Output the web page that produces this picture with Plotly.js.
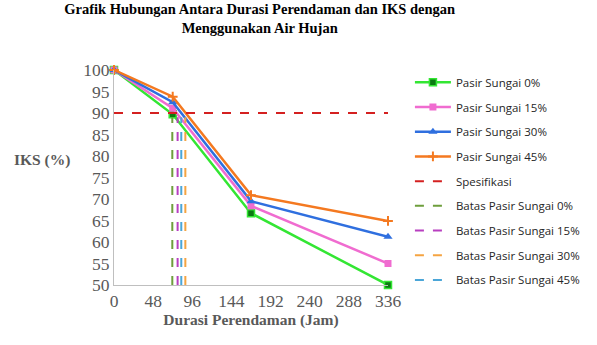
<!DOCTYPE html>
<html>
<head>
<meta charset="utf-8">
<script src="https://cdn.plot.ly/plotly-3.0.1.min.js"></script>
<style>html,body{margin:0;padding:0;background:#fff;}#chart{width:597px;height:345px;}</style>
</head>
<body>
<div id="chart"></div>
<script>
// Data
const durasi = [0, 72, 168, 336];
const pasir0 = [100, 89.7, 66.7, 50];
const pasir15 = [100, 91.1, 68.4, 55];
const pasir30 = [100, 92.5, 69.5, 61.2];
const pasir45 = [100, 93.8, 70.9, 64.9];
const spesifikasiX = [0, 336];
const spesifikasiY = [90, 90];
const batasY = [50, 89];
const batas0X = [71.5, 71.5];
const batas15X = [78, 78];
const batas30X = [87.5, 87.5];
const batas45X = [82.5, 82.5];
const xTicks = [0, 48, 96, 144, 192, 240, 288, 336];
const yTicks = [50, 55, 60, 65, 70, 75, 80, 85, 90, 95, 100];

const names = ['Pasir Sungai 0%', 'Pasir Sungai 15%', 'Pasir Sungai 30%', 'Pasir Sungai 45%',
  'Spesifikasi', 'Batas Pasir Sungai 0%', 'Batas Pasir Sungai 15%', 'Batas Pasir Sungai 30%', 'Batas Pasir Sungai 45%'];

function series(y, name, color, marker, g) {
  return {x: durasi, y: y, name: name, mode: 'lines+markers', legendgroup: g, cliponaxis: false,
    line: {color: color, width: 2.5}, marker: marker};
}
function dline(x, y, name, color, g, w) {
  return {x: x, y: y, name: name, mode: 'lines', legendgroup: g, cliponaxis: false,
    line: {color: color, width: w || 2, dash: 'dash'}};
}

const traces = [
  series(pasir0, names[0], '#33E633', {symbol: 'square', size: 7, color: '#0B7A12', line: {color: '#33E633', width: 1.5}}, 'g0'),
  series(pasir15, names[1], '#F06CD0', {symbol: 'square', size: 7, color: '#F06CD0'}, 'g1'),
  series(pasir30, names[2], '#2F6FDF', {symbol: 'triangle-up', size: 8, color: '#2F6FDF'}, 'g2'),
  series(pasir45, names[3], '#F47920', {symbol: 'cross-thin', size: 7, color: '#F47920', line: {color: '#F47920', width: 2}}, 'g3'),
  dline(spesifikasiX, spesifikasiY, names[4], '#D42020', 'g4', 2),
  dline(batas0X, batasY, names[5], '#6E9E3C', 'g5'),
  dline(batas15X, batasY, names[6], '#B83FC0', 'g6'),
  dline(batas30X, batasY, names[7], '#F5A442', 'g7'),
  dline(batas45X, batasY, names[8], '#4BA6D8', 'g8')
];

const layout = {
  width: 597, height: 345,
  margin: {l: 114, r: 198, t: 70, b: 60},
  paper_bgcolor: '#fff', plot_bgcolor: '#fff',
  showlegend: true,
  title: {text: '<b>Grafik Hubungan Antara Durasi Perendaman dan IKS dengan<br>Menggunakan Air Hujan</b>',
    font: {family: 'Liberation Serif', size: 14.5, color: '#000'}, x: 0.435, xanchor: 'center', y: 0.96, yanchor: 'top'},
  xaxis: {range: [0, 336], tickvals: xTicks, ticktext: xTicks.map(String), showgrid: false, zeroline: false,
    showline: true, linecolor: '#BFBFBF', linewidth: 1, ticks: '',
    tickfont: {family: 'Liberation Serif', size: 17.5, color: '#595959'},
    title: {text: '<b>Durasi Perendaman (Jam)</b>', font: {family: 'Liberation Serif', size: 15.5, color: '#595959'}, standoff: 4}},
  yaxis: {range: [50, 100], tickvals: yTicks, showgrid: false, zeroline: false,
    showline: true, linecolor: '#BFBFBF', linewidth: 1, ticks: '',
    tickfont: {family: 'Liberation Serif', size: 17.5, color: '#595959'}},
  legend: {x: 1.08, xanchor: 'left', y: 1.01, yanchor: 'top', traceorder: 'grouped', tracegroupgap: 5.7, itemwidth: 36,
    maxheight: 1, font: {family: 'Open Sans', size: 11.5, color: '#262626'}, bgcolor: 'rgba(0,0,0,0)'},
  annotations: [{text: '<b>IKS (%)</b>', xref: 'paper', yref: 'paper', x: -0.263, y: 0.58, xanchor: 'center', yanchor: 'middle',
    showarrow: false, font: {family: 'Liberation Serif', size: 15.5, color: '#595959'}}]
};

Plotly.newPlot('chart', traces, layout, {displayModeBar: false, staticPlot: true});
</script>
</body>
</html>
